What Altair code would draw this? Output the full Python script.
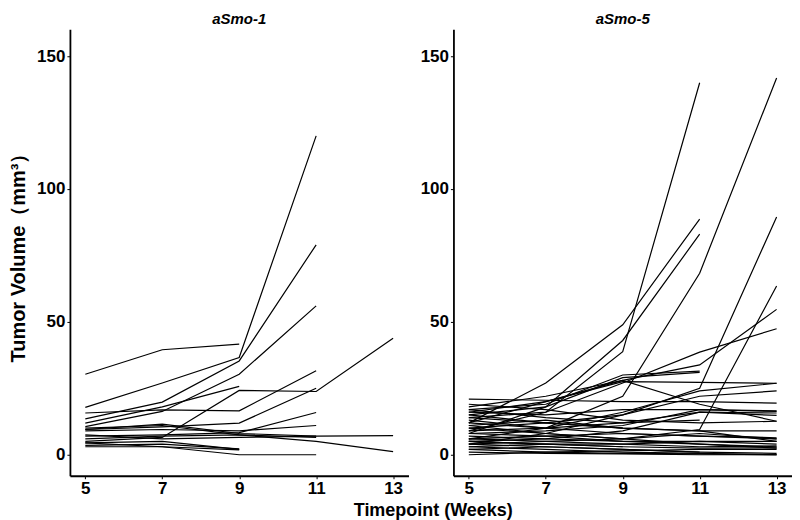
import altair as alt
import pandas as pd

weeks = [5, 7, 9, 11, 13]
N = None

# aSmo-1 tumours (volume in mm3 at weeks 5, 7, 9, 11, 13)
asmo1 = [
    [30.3, 39.5, 41.6, N, N],
    [17.8, 27.0, 36.6, 120.0, N],
    [13.5, 19.8, 35.3, 79.0, N],
    [10.6, 16.3, 30.3, 56.0, N],
    [15.7, 16.9, 16.5, 31.6, N],
    [11.9, 18.0, 25.7, N, N],
    [5.0, 6.5, 24.2, 23.8, 43.8],
    [9.5, 10.5, 11.9, 25.0, N],
    [7.0, 7.5, 8.3, 15.9, N],
    [9.0, 9.5, 9.0, 11.0, N],
    [9.5, 11.5, 8.0, 7.0, 7.2],
    [10.0, 11.0, 7.5, 5.0, 1.2],
    [3.0, 3.0, 1.8, N, N],
    [3.5, 4.0, 2.2, N, N],
    [4.5, 5.0, 2.0, N, N],
    [4.5, 3.0, 0.0, 0.0, N],
    [6.0, 7.0, 7.5, 6.5, N],
    [7.5, 6.0, 6.5, 7.0, N],
]

# aSmo-5 tumours
asmo5 = [
    [14.0, 16.0, 38.8, 140.0, N],
    [12.0, 27.0, 48.9, 88.7, N],
    [8.0, 18.0, 43.0, 83.0, N],
    [6.0, 10.0, 22.0, 68.3, 141.8],
    [4.0, 8.0, 15.0, 25.0, 89.5],
    [10.0, 8.0, 6.0, 9.5, 63.5],
    [16.0, 20.0, 28.0, 33.8, 54.7],
    [9.0, 16.0, 27.0, 38.6, 47.4],
    [17.0, 19.0, 30.0, 31.5, N],
    [15.0, 18.0, 29.0, 31.0, N],
    [12.0, 20.0, 27.5, 27.2, 26.9],
    [20.9, 20.5, 20.0, 20.0, 19.4],
    [18.0, 22.0, 28.0, 19.0, 12.6],
    [13.0, 10.0, 16.0, 24.0, 26.9],
    [10.0, 12.0, 15.0, 22.0, 24.0],
    [8.0, 9.0, 11.0, 17.0, 16.3],
    [5.0, 6.0, 9.0, 16.0, 15.7],
    [17.0, 14.0, 12.0, 16.0, 14.8],
    [19.0, 17.0, 13.0, 12.0, 12.6],
    [15.0, 12.0, 10.0, 9.0, 9.0],
    [12.0, 10.0, 8.0, 7.0, 6.4],
    [6.0, 5.0, 4.0, 3.0, 3.3],
    [5.0, 4.0, 3.0, 2.5, 2.6],
    [4.0, 3.0, 2.0, 1.0, 0.5],
    [3.0, 2.0, 1.0, 0.5, 0.0],
    [2.0, 1.0, 0.5, 0.3, 0.0],
    [1.0, 0.5, 0.3, 0.0, 0.0],
    [0.0, 1.0, 1.5, 2.0, 2.0],
    [7.0, 6.0, 5.0, 5.0, 5.0],
    [8.0, 7.0, 5.0, 4.0, 3.0],
    [11.0, 8.0, 6.0, 4.0, 2.5],
    [4.0, 5.0, 6.0, 8.0, 6.0],
    [3.0, 4.0, 4.0, 5.0, 4.0],
    [6.0, 7.0, 8.0, 7.0, 6.0],
    [9.0, 10.0, 12.0, 13.0, N],
    [2.0, 3.0, 2.0, 1.0, N],
    [5.0, 4.0, 3.0, N, N],
    [14.0, 12.0, 10.0, N, N],
    [16.0, 15.0, 17.0, 17.0, 16.5],
    [11.0, 13.0, 10.0, 9.0, 5.0],
]


def to_frame(rows):
    recs = []
    for i, row in enumerate(rows):
        for w, v in zip(weeks, row):
            if v is not None:
                recs.append({"id": i, "week": w, "volume": v})
    return pd.DataFrame(recs)


FONT = "Liberation Sans"
xscale = alt.Scale(domain=[4.6, 13.4], nice=False, zero=False)
yscale = alt.Scale(domain=[-7.9, 160.1], nice=False, zero=False)


def panel(rows, name, show_ytitle):
    ytitle = "Tumor Volume（mm³）" if show_ytitle else None
    return (
        alt.Chart(to_frame(rows))
        .mark_line(color="black", strokeWidth=1.2)
        .encode(
            x=alt.X("week:Q", scale=xscale,
                    axis=alt.Axis(values=weeks, title=None, format="d")),
            y=alt.Y("volume:Q", scale=yscale,
                    axis=alt.Axis(values=[0, 50, 100, 150], title=ytitle)),
            detail="id:N",
            order="week:Q",
        )
        .properties(
            width=339,
            height=447,
            title=alt.TitleParams(name, fontSize=15, fontStyle="italic",
                                  fontWeight="bold", font=FONT, offset=2,
                                  anchor="middle", color="black"),
        )
    )


chart = (
    alt.hconcat(panel(asmo1, "aSmo-1", True), panel(asmo5, "aSmo-5", False),
                spacing=11)
    .properties(
        padding={"top": 4, "left": 0, "right": 0, "bottom": 0},
        title=alt.TitleParams("Timepoint (Weeks)", orient="bottom",
                              anchor="middle", fontSize=18, fontWeight="bold",
                              font=FONT, color="black", offset=5, dx=33),
    )
    .configure_view(stroke=None)
    .configure_axis(
        grid=False,
        domainColor="black",
        domainWidth=1.8,
        tickColor="black",
        tickSize=3,
        tickWidth=1,
        labelColor="black",
        labelFont=FONT,
        labelFontSize=17,
        labelFontWeight="bold",
        labelPadding=2,
        titleColor="black",
        titleFont=FONT,
        titleFontSize=20,
        titleFontWeight="bold",
        titlePadding=8,
    )
)

chart.save("out.html", embed_options={"renderer": "svg", "actions": False})
